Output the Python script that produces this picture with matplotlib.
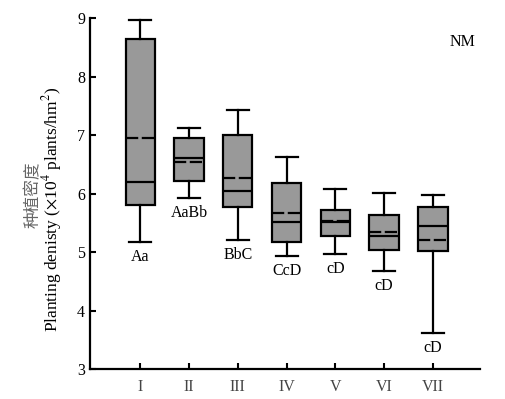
import matplotlib
matplotlib.use("Agg")
import matplotlib.pyplot as plt

plt.rcParams["font.family"] = ["Liberation Serif", "Noto Sans CJK SC"]
plt.rcParams["mathtext.fontset"] = "stix"

# ── data ──────────────────────────────────────────────────────────────────────
groups = ["I", "II", "III", "IV", "V", "VI", "VII"]
whis_hi = [8.98, 7.12, 7.44, 6.63, 6.08, 6.01, 5.98]
q3 = [8.65, 6.95, 7.00, 6.19, 5.72, 5.64, 5.77]
medians = [6.20, 6.61, 6.04, 5.52, 5.52, 5.27, 5.45]
means = [6.95, 6.55, 6.27, 5.67, 5.54, 5.35, 5.21]
q1 = [5.81, 6.21, 5.78, 5.17, 5.28, 5.04, 5.02]
whis_lo = [5.17, 5.92, 5.21, 4.93, 4.97, 4.67, 3.61]
letters = ["Aa", "AaBb", "BbC", "CcD", "cD", "cD", "cD"]

stats = []
for i in range(len(groups)):
    stats.append(dict(med=medians[i], q1=q1[i], q3=q3[i], whislo=whis_lo[i],
                      whishi=whis_hi[i], mean=means[i], fliers=[], label=groups[i]))

fig = plt.figure(figsize=(5.06, 3.99), dpi=100)
ax = fig.add_axes([0.178, 0.075, 0.771, 0.879])

lw = 1.6
pos = list(range(1, len(groups) + 1))
ax.bxp(stats, positions=pos, widths=0.6, patch_artist=True,
       showmeans=True, meanline=True, showfliers=False, capwidths=0.45,
       boxprops=dict(facecolor="#999999", edgecolor="black", linewidth=lw),
       medianprops=dict(color="black", linewidth=lw),
       meanprops=dict(color="black", linewidth=lw, linestyle=(0, (5.5, 1.6))),
       whiskerprops=dict(color="black", linewidth=lw),
       capprops=dict(color="black", linewidth=lw))

for x, lo, lab in zip(pos, whis_lo, letters):
    ax.annotate(lab, xy=(x, lo), xytext=(0, -5), textcoords="offset points",
                ha="center", va="top", fontsize=11.5)

ax.set_xlim(-0.03, 7.97)
ax.set_ylim(3, 9)
ax.set_yticks([3, 4, 5, 6, 7, 8, 9])
ax.set_xticks(pos)
ax.set_xticklabels(groups, color="#444444")
ax.tick_params(axis="both", direction="in", length=4, width=1.5, labelsize=11.5)
ax.tick_params(axis="x", pad=7)
for s in ["top", "right"]:
    ax.spines[s].set_visible(False)
for s in ["left", "bottom"]:
    ax.spines[s].set_linewidth(1.6)

ax.text(-0.146, 0.496, "种植密度", transform=ax.transAxes, rotation=90,
        ha="center", va="center", fontsize=12, color="#666666",
        family=["Noto Sans CJK SC"])
ax.text(-0.097, 0.456, r"Planting denisty ($\times$10$^4$ plants/hm$^2$)",
        transform=ax.transAxes, rotation=90, ha="center", va="center", fontsize=12.5)
ax.text(0.954, 0.932, "NM", transform=ax.transAxes, ha="center", va="center",
        fontsize=11.5)

fig.savefig("out.png", dpi=100)
